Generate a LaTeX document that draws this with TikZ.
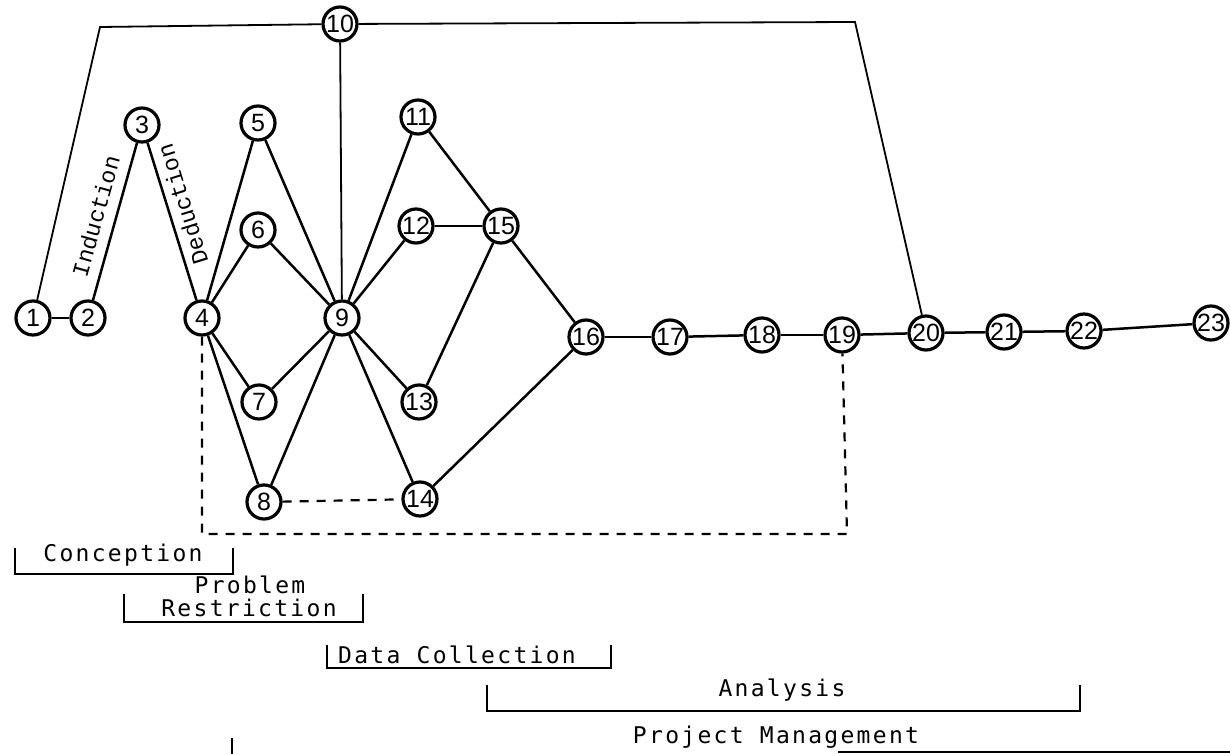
\documentclass[tikz,border=0pt]{standalone}
\usepackage{fontspec}
\setmainfont{Liberation Sans}
\newfontfamily\typefont[LetterSpace=10]{DejaVu Sans Mono}
\newfontfamily\courfont{Liberation Mono}
\usetikzlibrary{positioning}

\begin{document}
\begin{tikzpicture}[
  x=1pt, y=-1pt,
  num/.style={circle, draw, line width=3.2pt, minimum size=34pt, inner sep=0pt,
              font=\fontsize{25}{25}\selectfont},
  edge/.style={line width=2.5pt},
  thinedge/.style={line width=1.8pt},
  link/.style={line width=2.2pt, dash pattern=on 9pt off 8pt},
  bar/.style={line width=2.6pt},
  phase/.style={font=\typefont\fontsize{23}{26}\selectfont, inner sep=0pt},
  slant/.style={font=\courfont\fontsize{23}{23}\selectfont}
]
\useasboundingbox (0,0) rectangle (1230,754);

% event nodes
\node[num] (n1) at (33,318) {1};
\node[num] (n2) at (88,318) {2};
\node[num] (n3) at (142,125) {3};
\node[num] (n4) at (202,318) {4};
\node[num] (n5) at (258,123) {5};
\node[num] (n6) at (258,230) {6};
\node[num] (n7) at (259,402) {7};
\node[num] (n8) at (264,502) {8};
\node[num] (n9) at (342,318) {9};
\node[num] (n10) at (340,24) {10};
\node[num] (n11) at (418,117) {11};
\node[num] (n12) at (416,226) {12};
\node[num] (n13) at (419,402) {13};
\node[num] (n14) at (420,499) {14};
\node[num] (n15) at (501,226) {15};
\node[num] (n16) at (586,337) {16};
\node[num] (n17) at (670,337) {17};
\node[num] (n18) at (762,335) {18};
\node[num] (n19) at (842,335) {19};
\node[num] (n20) at (926,333) {20};
\node[num] (n21) at (1004,332) {21};
\node[num] (n22) at (1084,331) {22};
\node[num] (n23) at (1211,323) {23};

\coordinate (topl) at (100,27);
\coordinate (topr) at (855,22);
\coordinate (dl) at (202,534);
\coordinate (dr) at (847,534);

% solid links
\draw[edge] (n1) -- (n2);
\draw[edge] (n2) -- node[sloped, above=7pt, slant] {Induction} (n3);
\draw[edge] (n4) -- node[pos=0.58, sloped, allow upside down, below=2pt, slant] {Deduction} (n3);
\draw[edge] (n4) -- (n5);
\draw[edge] (n4) -- (n6);
\draw[edge] (n4) -- (n7);
\draw[edge] (n4) -- (n8);
\draw[edge] (n5) -- (n9);
\draw[edge] (n6) -- (n9);
\draw[edge] (n7) -- (n9);
\draw[edge] (n8) -- (n9);
\draw[thinedge] (n9) -- (n10);
\draw[edge] (n9) -- (n11);
\draw[edge] (n9) -- (n12);
\draw[edge] (n9) -- (n13);
\draw[edge] (n9) -- (n14);
\draw[edge] (n11) -- (n15);
\draw[edge] (n12) -- (n15);
\draw[edge] (n13) -- (n15);
\draw[edge] (n15) -- (n16);
\draw[edge] (n14) -- (n16);
\draw[edge] (n16) -- (n17);
\draw[edge] (n17) -- (n18);
\draw[edge] (n18) -- (n19);
\draw[edge] (n19) -- (n20);
\draw[edge] (n20) -- (n21);
\draw[edge] (n21) -- (n22);
\draw[edge] (n22) -- (n23);
\draw[thinedge] (n1) -- (topl) -- (n10);
\draw[thinedge] (n10) -- (topr) -- (n20);

% dashed links
\draw[link] (n8) -- (n14);
\draw[link] (n4) -- (dl) -- (dr) -- (n19);

% phases
\draw[bar] (15,548) |- (233,574) -- (233,548);
\node[phase] (concep) at (123,555) {Conception};
\draw[bar] (124,594) |- (363,622) -- (363,594);
\node[phase] (probl) at (250,585) {Problem};
\node[phase] (restr) at (249,608) {Restriction};
\draw[bar] (327,645) |- (611,668) -- (611,645);
\node[phase] (datac) at (457,655) {Data Collection};
\draw[bar] (487,685) |- (1080,711) -- (1080,685);
\node[phase] (anal) at (782,690) {Analysis};
\draw[bar] (232,738) -- (232,754);
\draw[bar] (838,752) -- (1230,752);
\node[phase] (projm) at (776,737) {Project Management};

\end{tikzpicture}
\end{document}
